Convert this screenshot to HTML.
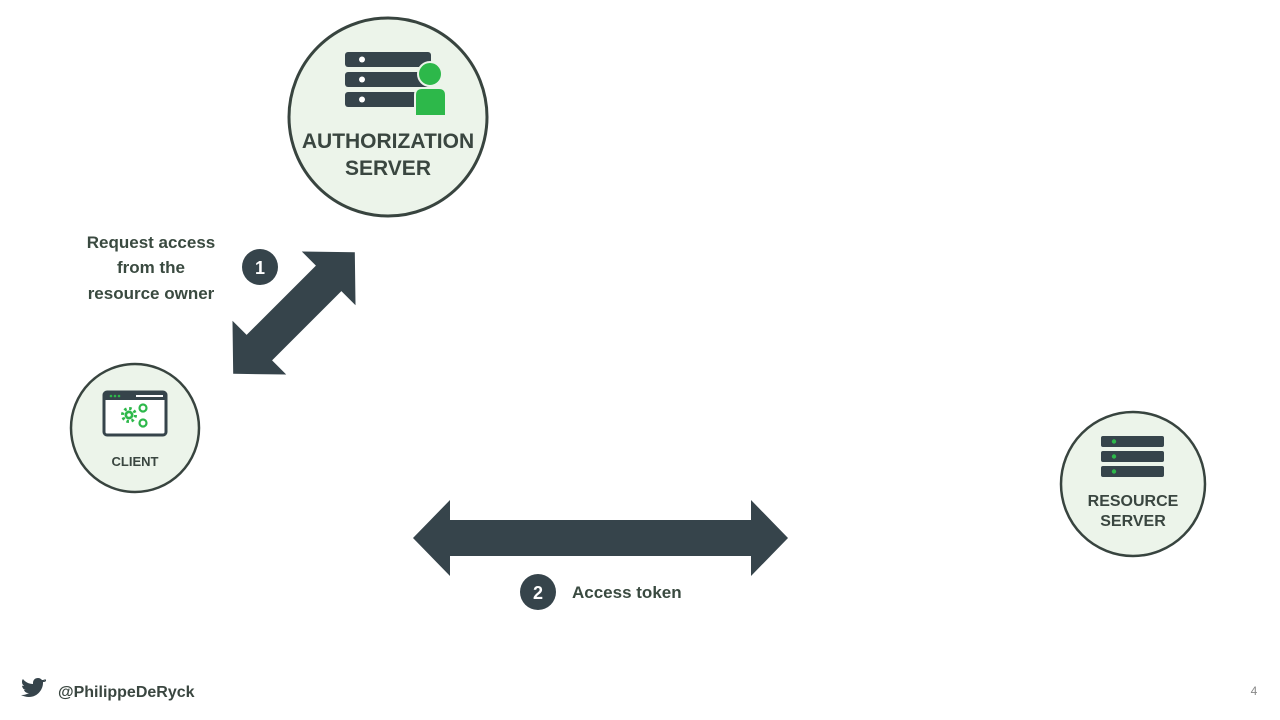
<!DOCTYPE html>
<html><head><meta charset="utf-8"><style>
html,body{margin:0;padding:0;background:#fff;}
svg{display:block;font-family:"Liberation Sans",sans-serif;}
</style></head><body>
<svg width="1280" height="720" viewBox="0 0 1280 720">
<circle cx="388" cy="117" r="99" fill="#ecf4ea" stroke="#38443f" stroke-width="3"/>
<rect x="345" y="52" width="86" height="15" rx="3" fill="#36444b"/>
<rect x="345" y="72" width="86" height="15" rx="3" fill="#36444b"/>
<rect x="345" y="92" width="86" height="15" rx="3" fill="#36444b"/>
<circle cx="362" cy="59.5" r="3" fill="#fff"/><circle cx="362" cy="79.5" r="3" fill="#fff"/><circle cx="362" cy="99.5" r="3" fill="#fff"/>
<circle cx="430" cy="74" r="12" fill="#2db84a" stroke="#ecf4ea" stroke-width="2"/>
<path d="M415 116 L415 95 Q415 88 422 88 L439 88 Q446 88 446 95 L446 116 Z" fill="#2db84a" stroke="#ecf4ea" stroke-width="2"/>
<text x="388" y="148" text-anchor="middle" font-size="21" font-weight="bold" fill="#3a4640">AUTHORIZATION</text>
<text x="388" y="175" text-anchor="middle" font-size="21" font-weight="bold" fill="#3a4640">SERVER</text>
<circle cx="135" cy="428" r="64" fill="#ecf4ea" stroke="#38443f" stroke-width="2.5"/>
<rect x="104" y="392" width="62" height="43" rx="3" fill="#fff" stroke="#36444b" stroke-width="3"/>
<rect x="104" y="392" width="62" height="8" fill="#36444b"/>
<rect x="136" y="395" width="27" height="2" fill="#fff"/>
<circle cx="111" cy="396" r="1.3" fill="#2db84a"/><circle cx="115" cy="396" r="1.3" fill="#2db84a"/><circle cx="119" cy="396" r="1.3" fill="#2db84a"/>
<circle cx="129" cy="415" r="6.5" fill="none" stroke="#2db84a" stroke-width="3" stroke-dasharray="2.5 2.6"/>
<circle cx="129" cy="415" r="4.5" fill="#2db84a"/>
<circle cx="129" cy="415" r="1.8" fill="#fff"/>
<circle cx="143" cy="408" r="3.5" fill="none" stroke="#2db84a" stroke-width="2.2"/>
<circle cx="143" cy="423" r="3.5" fill="none" stroke="#2db84a" stroke-width="2.2"/>
<text x="135" y="466" text-anchor="middle" font-size="13" font-weight="bold" fill="#3a4640">CLIENT</text>
<circle cx="1133" cy="484" r="72" fill="#ecf4ea" stroke="#38443f" stroke-width="2.5"/>
<rect x="1101" y="436" width="63" height="11" rx="2" fill="#36444b"/>
<rect x="1101" y="451" width="63" height="11" rx="2" fill="#36444b"/>
<rect x="1101" y="466" width="63" height="11" rx="2" fill="#36444b"/>
<circle cx="1114" cy="441.5" r="2.2" fill="#2db84a"/><circle cx="1114" cy="456.5" r="2.2" fill="#2db84a"/><circle cx="1114" cy="471.5" r="2.2" fill="#2db84a"/>
<text x="1133" y="506" text-anchor="middle" font-size="16" font-weight="bold" fill="#3a4640">RESOURCE</text>
<text x="1133" y="526" text-anchor="middle" font-size="16" font-weight="bold" fill="#3a4640">SERVER</text>
<g transform="translate(294,313) rotate(-45)">
<polygon points="-86,0 -49,-38 -49,-18 49,-18 49,-38 86,0 49,38 49,18 -49,18 -49,38" fill="#36444b"/>
</g>
<polygon points="413,538 450,500 450,520 751,520 751,500 788,538 751,576 751,556 450,556 450,576" fill="#36444b"/>
<g font-size="17" font-weight="bold" fill="#3a4a40" text-anchor="middle">
<text x="151" y="248">Request access</text>
<text x="151" y="273">from the</text>
<text x="151" y="299">resource owner</text>
</g>
<circle cx="260" cy="267" r="18" fill="#36444b"/>
<text x="260" y="274" text-anchor="middle" font-size="18" font-weight="bold" fill="#fff">1</text>
<circle cx="538" cy="592" r="18" fill="#36444b"/>
<text x="538" y="599" text-anchor="middle" font-size="18" font-weight="bold" fill="#fff">2</text>
<text x="572" y="598" font-size="17" font-weight="bold" fill="#3a4a40">Access token</text>
<path d="M46 681 c-1 1-2 1-3 1 1-1 2-2 2-3 -1 1-2 1-3 1 -1-1-2-2-4-2 -3 0-5 2-5 5 0 0 0 1 0 1 -4 0-8-2-10-5 -1 1-1 2-1 3 0 2 1 3 2 4 -1 0-2 0-2-1 0 3 2 5 4 5 -1 0-2 0-2 0 1 2 2 3 5 3 -2 1-4 2-7 2 0 0-1 0-1 0 2 1 5 2 8 2 9 0 14-8 14-14 0 0 0-1 0-1 1-1 2-2 3-3z" fill="#36444b"/>
<text x="58" y="697" font-size="16" font-weight="bold" fill="#3a4640">@PhilippeDeRyck</text>
<text x="1254" y="695" text-anchor="middle" font-size="12" fill="#888">4</text>
</svg>
</body></html>
